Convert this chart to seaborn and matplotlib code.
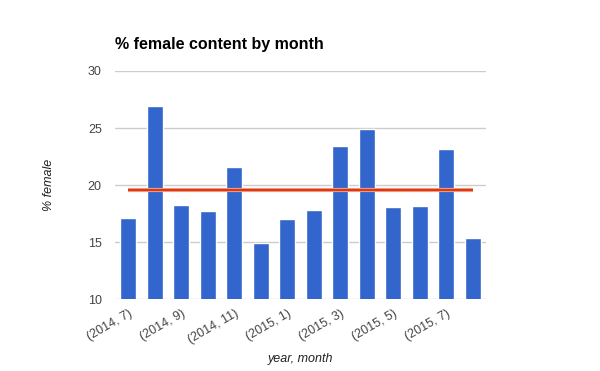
import matplotlib
matplotlib.use("Agg")
import matplotlib.pyplot as plt
import seaborn as sns
import pandas as pd
import numpy as np

months = ["(2014, 7)", "(2014, 8)", "(2014, 9)", "(2014, 10)", "(2014, 11)", "(2014, 12)",
          "(2015, 1)", "(2015, 2)", "(2015, 3)", "(2015, 4)", "(2015, 5)", "(2015, 6)",
          "(2015, 7)", "(2015, 8)"]
pct_female = [17.1, 26.9, 18.3, 17.7, 21.6, 14.9, 17.0, 17.8, 23.4, 24.9, 18.1, 18.2, 23.2, 15.4]
yticks = [10, 15, 20, 25, 30]

sns.set_theme(style="white")
plt.rcParams['font.family'] = ['Liberation Sans', 'DejaVu Sans']

df = pd.DataFrame({"month": months, "pct": pct_female})
mean_val = float(np.mean(pct_female))

fig = plt.figure(figsize=(6.0, 3.71), dpi=100)
ax = fig.add_axes([115/600, 1 - 299.3/371, 371/600, 228.3/371])

sns.barplot(data=df, x="month", y="pct", color="#3366cc", saturation=1, width=0.6, ax=ax)

# mean line from first to last bar center
ax.plot([0, len(months) - 1], [mean_val, mean_val], color="#f2a48f", lw=3, solid_capstyle="butt", zorder=3)
ax.plot([0, len(months) - 1], [mean_val, mean_val], color="#dc3912", lw=1.6, solid_capstyle="butt", zorder=4)

ax.set_ylim(10, 30)
ax.set_xlim(-0.5, len(months) - 0.5)
ax.set_yticks(yticks)
ax.set_yticklabels([str(t) for t in yticks], color="#444444", fontsize=9)
ax.yaxis.grid(True, color="#cccccc", lw=1)
ax.set_axisbelow(True)
for s in ax.spines.values():
    s.set_visible(False)
ax.tick_params(axis="both", length=0)
ax.tick_params(axis="y", pad=9.5)

tick_pos = list(range(0, len(months), 2))
ax.set_xticks(tick_pos)
ax.set_xticklabels([months[i] for i in tick_pos], rotation=30, ha="right",
                   rotation_mode="anchor", color="#444444", fontsize=9)
ax.tick_params(axis="x", pad=6)

ax.set_xlabel("year, month", fontstyle="italic", color="#222222", fontsize=9, labelpad=5)
ax.set_ylabel("% female", fontstyle="italic", color="#222222", fontsize=9, labelpad=23.5)

fig.text(115/600, 1 - 45/371, "% female content by month", fontweight="bold",
         fontsize=11.5, color="#000000", ha="left", va="center")

fig.savefig("out.png", dpi=100)
